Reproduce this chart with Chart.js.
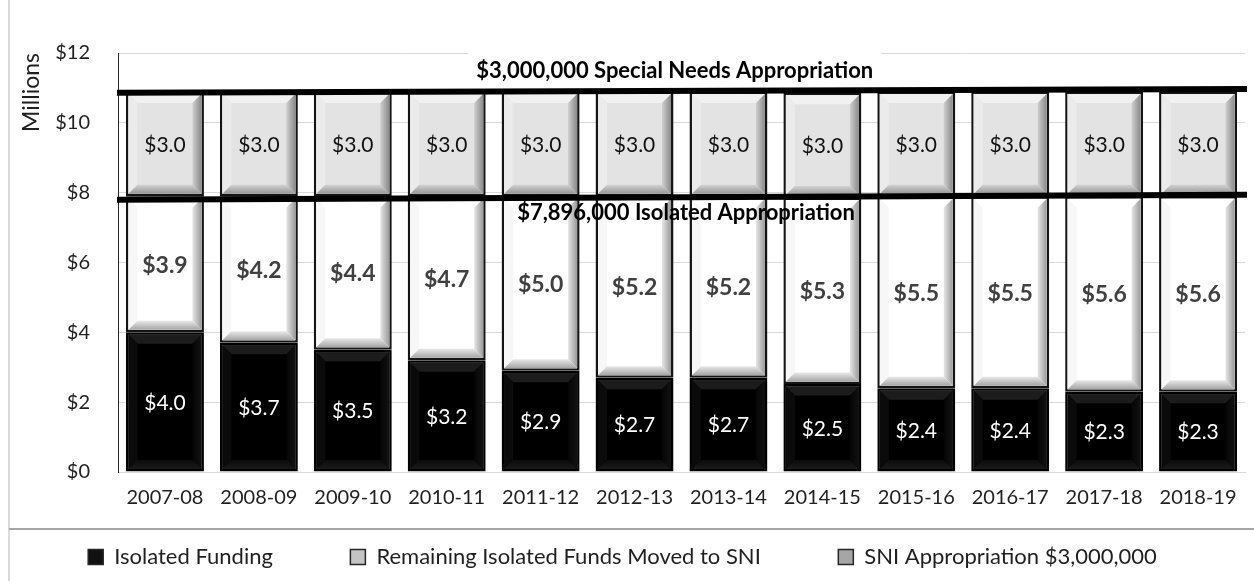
<!DOCTYPE html>
<html>
<head>
<meta charset="utf-8">
<title>Isolated Funding</title>
<script src="https://cdn.jsdelivr.net/npm/chart.js@4.4.1/dist/chart.umd.min.js"></script>
<style>
    html, body { margin: 0; padding: 0; background: #ffffff; }
    #wrap { width: 1254px; height: 581px; }
</style>
</head>
<body>
<div id="wrap"><canvas id="graficoFundos" width="1254" height="581"></canvas></div>
<script>
// ==========================================
// DATA
// ==========================================
const years = ["2007-08", "2008-09", "2009-10", "2010-11", "2011-12", "2012-13",
               "2013-14", "2014-15", "2015-16", "2016-17", "2017-18", "2018-19"];
const isolatedFunding = [4.0, 3.7, 3.5, 3.2, 2.9, 2.7, 2.7, 2.52, 2.4, 2.4, 2.3, 2.3];
const remainingMoved  = [3.9, 4.2, 4.4, 4.7, 5.0, 5.2, 5.2, 5.34, 5.5, 5.5, 5.6, 5.6];
const sniAppropriation = [3.0, 3.0, 3.0, 3.0, 3.0, 3.0, 3.0, 3.0, 3.0, 3.0, 3.0, 3.0];
const seriesNames = ["Isolated Funding", "Remaining Isolated Funds Moved to SNI", "SNI Appropriation $3,000,000"];
const yTicks = [0, 2, 4, 6, 8, 10, 12];

// appropriation lines (start / end value, the drawn lines are slightly tilted)
const specialNeedsLine = [10.86, 10.97];
const isolatedLine = [7.80, 7.94];
const specialNeedsText = "$3,000,000 Special Needs Appropriation";
const isolatedText = "$7,896,000 Isolated Appropriation";

// ==========================================
// STYLES
// ==========================================
const FONT = "Lato, 'Open Sans', sans-serif";
const TXT = "#1f1f1f";

const bevelStyles = [
    { face: "#000000", top: "#1c1c1c", left: "#0b0b0b", right: ["#050505", "#121212"], bottom: ["#0c0c0c", "#1a1a1a"],
      label: { color: "#ffffff", weight: "normal", size: 21 } },
    { face: "#ffffff", top: "#ffffff", left: "#f7f7f7", right: ["#e6e6e6", "#9a9a9a"], bottom: ["#e8e8e8", "#a4a4a4"],
      label: { color: "#404040", weight: "bold", size: 23 } },
    { face: "#e3e3e3", top: "#f1f1f1", left: "#ebebeb", right: ["#cfcfcf", "#8a8a8a"], bottom: ["#d3d3d3", "#969696"],
      label: { color: "#111111", weight: "normal", size: 21 } }
];
const legendFill = ["#111111", "#c4c4c4", "#a6a6a6"];
const legendGap = "\u2003\u2003\u2003\u2002";

// ==========================================
// DRAWING HELPERS
// ==========================================
function poly(ctx, pts, fill) {
    ctx.beginPath();
    ctx.moveTo(pts[0][0], pts[0][1]);
    for (let i = 1; i < pts.length; i++) ctx.lineTo(pts[i][0], pts[i][1]);
    ctx.closePath();
    ctx.fillStyle = fill;
    ctx.fill();
}

function drawBevel(ctx, l, t, r, b, st) {
    const k = Math.min(9, (r - l) / 2, (b - t) / 2);
    poly(ctx, [[l, t], [r, t], [r - k, t + k], [l + k, t + k]], st.top);
    poly(ctx, [[l, t], [l + k, t + k], [l + k, b - k], [l, b]], st.left);

    const gr = ctx.createLinearGradient(r - k, 0, r, 0);
    gr.addColorStop(0, st.right[0]);
    gr.addColorStop(1, st.right[1]);
    poly(ctx, [[r, t], [r, b], [r - k, b - k], [r - k, t + k]], gr);

    const gb = ctx.createLinearGradient(0, b - k, 0, b);
    gb.addColorStop(0, st.bottom[0]);
    gb.addColorStop(1, st.bottom[1]);
    poly(ctx, [[l, b], [r, b], [r - k, b - k], [l + k, b - k]], gb);
}

// ==========================================
// PLUGIN: frame, bevels, lines and labels
// ==========================================
const extrasPlugin = {
    id: "extras",
    beforeDraw(chart) {
        const ctx = chart.ctx;
        ctx.save();
        ctx.strokeStyle = "#d9d9d9";
        ctx.lineWidth = 2;
        ctx.beginPath();
        ctx.moveTo(9, 0);
        ctx.lineTo(9, chart.height);
        ctx.stroke();
        ctx.strokeStyle = "#a6a6a6";
        ctx.beginPath();
        ctx.moveTo(9, chart.legend.top);
        ctx.lineTo(chart.width, chart.legend.top);
        ctx.stroke();
        ctx.restore();
    },
    afterDatasetsDraw(chart) {
        const ctx = chart.ctx;
        const y = chart.scales.y;
        const area = chart.chartArea;
        ctx.save();

        // bevels
        chart.data.datasets.forEach(function (ds, di) {
            const bw = ds.borderWidth;
            chart.getDatasetMeta(di).data.forEach(function (bar) {
                const p = bar.getProps(["x", "y", "base", "width"], true);
                const l = p.x - p.width / 2 + bw, r = p.x + p.width / 2 - bw;
                const t = Math.min(p.y, p.base) + bw, b = Math.max(p.y, p.base) - bw;
                drawBevel(ctx, l, t, r, b, bevelStyles[di]);
            });
        });

        // appropriation lines
        ctx.strokeStyle = "#000000";
        ctx.lineWidth = 6;
        [specialNeedsLine, isolatedLine].forEach(function (ln) {
            ctx.beginPath();
            ctx.moveTo(area.left - 1, y.getPixelForValue(ln[0]));
            ctx.lineTo(area.right + 2, y.getPixelForValue(ln[1]));
            ctx.stroke();
        });

        // value labels
        ctx.textAlign = "center";
        ctx.textBaseline = "middle";
        chart.data.datasets.forEach(function (ds, di) {
            const lb = bevelStyles[di].label;
            ctx.font = lb.weight + " " + lb.size + "px " + FONT;
            ctx.fillStyle = lb.color;
            chart.getDatasetMeta(di).data.forEach(function (bar, i) {
                const p = bar.getProps(["x", "y", "base"], true);
                ctx.fillText("$" + ds.data[i].toFixed(1), p.x, (p.y + p.base) / 2 + 1);
            });
        });

        // notes
        ctx.font = "bold 22px " + FONT;
        const x1 = area.left + 0.494 * (area.right - area.left);
        const y1 = y.getPixelForValue(11.5);
        const w1 = ctx.measureText(specialNeedsText).width;
        ctx.fillStyle = "#ffffff";
        ctx.fillRect(x1 - w1 / 2 - 8, y1 - 18, w1 + 16, 34);
        ctx.fillStyle = "#000000";
        ctx.fillText(specialNeedsText, x1, y1);

        const x2 = area.left + 0.504 * (area.right - area.left);
        ctx.fillText(isolatedText, x2, y.getPixelForValue(7.43));

        ctx.restore();
    }
};

// ==========================================
// CHART
// ==========================================
function buildChart() {
    const ctx = document.getElementById("graficoFundos");
    if (!ctx) return;

    const values = [isolatedFunding, remainingMoved, sniAppropriation];

    new Chart(ctx, {
        type: "bar",
        data: {
            labels: years,
            datasets: values.map(function (arr, i) {
                return {
                    label: seriesNames[i],
                    data: arr,
                    backgroundColor: bevelStyles[i].face,
                    borderColor: i === 0 ? "#000000" : "#141414",
                    borderWidth: 2.5,
                    borderSkipped: false,
                    categoryPercentage: 1.0,
                    barPercentage: 0.83
                };
            })
        },
        options: {
            responsive: false,
            animation: false,
            devicePixelRatio: 1,
            layout: { padding: { top: 53, right: 9, bottom: 3, left: 0 } },
            plugins: {
                tooltip: { enabled: false },
                legend: {
                    position: "bottom",
                    labels: {
                        boxWidth: 15,
                        boxHeight: 15,
                        padding: 17,
                        color: TXT,
                        font: { family: FONT, size: 22 },
                        generateLabels: function (chart) {
                            return chart.data.datasets.map(function (ds, i) {
                                return {
                                    text: ds.label + (i < 2 ? legendGap : ""),
                                    fillStyle: legendFill[i],
                                    strokeStyle: "#262626",
                                    lineWidth: 1.5,
                                    fontColor: TXT,
                                    hidden: false,
                                    datasetIndex: i
                                };
                            });
                        }
                    }
                }
            },
            scales: {
                x: {
                    stacked: true,
                    grid: { display: false, drawTicks: false },
                    border: { display: true, color: "#d9d9d9", width: 1 },
                    ticks: { color: TXT, padding: 14, font: { family: FONT, size: 20 } },
                    afterFit: function (s) { s.height = 57; }
                },
                y: {
                    stacked: true,
                    min: 0,
                    max: 12,
                    afterBuildTicks: function (s) {
                        s.ticks = yTicks.map(function (v) { return { value: v }; });
                    },
                    grid: { color: "#d9d9d9", drawTicks: false },
                    border: { display: true, color: "#262626", width: 1 },
                    ticks: {
                        color: TXT,
                        padding: 28,
                        font: { family: FONT, size: 20 },
                        callback: function (v) { return "$" + v; }
                    },
                    title: {
                        display: true,
                        text: "Millions",
                        align: "end",
                        color: TXT,
                        padding: { top: 18, bottom: 0 },
                        font: { family: FONT, size: 23 }
                    },
                    afterFit: function (s) { s.width = 118; }
                }
            }
        },
        plugins: [extrasPlugin]
    });
}

document.addEventListener("DOMContentLoaded", function () {
    buildChart();
});
</script>
</body>
</html>
